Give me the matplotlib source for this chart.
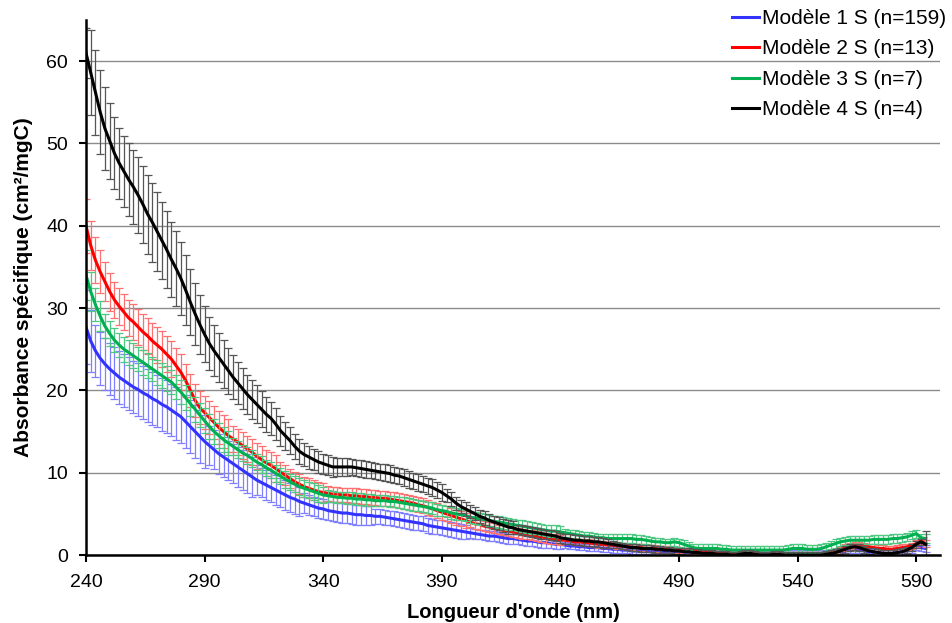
import numpy as np
import matplotlib.pyplot as plt

plt.rcParams['font.family'] = ['Liberation Sans', 'DejaVu Sans']

# wavelengths, nm (one point every 2 nm)
wavelengths = np.arange(240, 595, 2)

labels = ["Modèle 1 S (n=159)", "Modèle 2 S (n=13)", "Modèle 3 S (n=7)", "Modèle 4 S (n=4)"]

# mean specific absorbance, cm2/mgC
m1 = [27.7, 26.0, 24.8, 23.9, 23.2, 22.6, 22.1, 21.6, 21.2, 20.8,
      20.4, 20.1, 19.7, 19.4, 19.0, 18.7, 18.3, 18.0, 17.6, 17.2,
      16.8, 16.2, 15.6, 15.0, 14.4, 13.8, 13.3, 12.8, 12.3, 11.9,
      11.5, 11.1, 10.7, 10.3, 9.9, 9.5, 9.1, 8.8, 8.5, 8.2,
      7.9, 7.6, 7.3, 7.0, 6.8, 6.5, 6.3, 6.1, 5.9, 5.7,
      5.6, 5.4, 5.3, 5.2, 5.1, 5.1, 5.0, 4.9, 4.9, 4.8,
      4.8, 4.7, 4.7, 4.6, 4.5, 4.4, 4.3, 4.2, 4.1, 4.0,
      3.9, 3.8, 3.6, 3.5, 3.4, 3.3, 3.2, 3.1, 3.0, 2.9,
      2.8, 2.7, 2.6, 2.5, 2.4, 2.3, 2.3, 2.2, 2.1, 2.0,
      2.0, 1.9, 1.8, 1.7, 1.7, 1.6, 1.5, 1.5, 1.4, 1.3,
      1.3, 1.2, 1.1, 1.1, 1.0, 1.0, 0.9, 0.9, 0.9, 0.8,
      0.8, 0.7, 0.7, 0.6, 0.6, 0.5, 0.5, 0.5, 0.5, 0.4,
      0.4, 0.4, 0.4, 0.3, 0.3, 0.3, 0.3, 0.3, 0.3, 0.3,
      0.3, 0.3, 0.3, 0.3, 0.2, 0.2, 0.2, 0.2, 0.2, 0.2,
      0.2, 0.2, 0.2, 0.2, 0.2, 0.2, 0.2, 0.2, 0.2, 0.2,
      0.2, 0.2, 0.2, 0.2, 0.2, 0.2, 0.2, 0.2, 0.2, 0.3,
      0.5, 0.6, 0.7, 0.6, 0.5, 0.4, 0.3, 0.3, 0.2, 0.2,
      0.2, 0.3, 0.4, 0.5, 0.7, 1.0, 0.9, 0.8]
m2 = [40.0, 37.6, 35.8, 34.4, 33.2, 32.0, 31.0, 30.2, 29.5, 28.8,
      28.3, 27.7, 27.1, 26.6, 26.0, 25.5, 25.0, 24.4, 23.8, 23.0,
      22.2, 21.2, 20.0, 18.8, 17.9, 17.3, 16.7, 16.1, 15.5, 15.0,
      14.5, 14.1, 13.7, 13.3, 12.9, 12.5, 12.0, 11.6, 11.2, 10.9,
      10.5, 10.1, 9.7, 9.3, 8.9, 8.6, 8.3, 8.1, 7.9, 7.7,
      7.6, 7.5, 7.4, 7.4, 7.3, 7.3, 7.2, 7.2, 7.1, 7.1,
      7.0, 7.0, 6.9, 6.9, 6.8, 6.7, 6.6, 6.5, 6.4, 6.3,
      6.1, 6.0, 5.8, 5.6, 5.4, 5.2, 5.0, 4.8, 4.6, 4.4,
      4.2, 4.0, 3.8, 3.7, 3.5, 3.4, 3.3, 3.1, 3.0, 2.9,
      2.8, 2.7, 2.6, 2.5, 2.4, 2.3, 2.2, 2.1, 2.0, 1.9,
      1.8, 1.8, 1.7, 1.6, 1.6, 1.5, 1.5, 1.4, 1.3, 1.3,
      1.2, 1.2, 1.1, 1.1, 1.0, 1.0, 0.9, 0.9, 0.8, 0.8,
      0.8, 0.7, 0.7, 0.7, 0.6, 0.6, 0.5, 0.5, 0.5, 0.5,
      0.4, 0.4, 0.4, 0.3, 0.3, 0.2, 0.2, 0.2, 0.1, 0.1,
      0.1, 0.0, 0.0, 0.0, 0.0, 0.0, 0.0, 0.0, 0.0, 0.0,
      0.0, 0.0, 0.0, 0.0, 0.0, 0.0, 0.0, 0.1, 0.3, 0.6,
      0.9, 1.1, 1.2, 1.2, 1.1, 1.0, 0.9, 0.8, 0.8, 0.7,
      0.7, 0.8, 0.9, 1.0, 1.1, 1.4, 1.7, 1.4]
m3 = [34.0, 32.0, 30.4, 29.0, 27.8, 26.9, 26.1, 25.5, 25.0, 24.6,
      24.2, 23.8, 23.4, 23.0, 22.6, 22.2, 21.8, 21.4, 21.0, 20.4,
      19.8, 19.1, 18.4, 17.7, 17.0, 16.3, 15.6, 15.0, 14.5, 14.0,
      13.6, 13.2, 12.8, 12.4, 12.1, 11.7, 11.3, 11.0, 10.6, 10.3,
      9.9, 9.6, 9.2, 8.9, 8.6, 8.3, 8.1, 7.9, 7.7, 7.5,
      7.3, 7.2, 7.1, 7.0, 7.0, 6.9, 6.9, 6.8, 6.8, 6.7,
      6.7, 6.6, 6.6, 6.6, 6.5, 6.5, 6.4, 6.3, 6.2, 6.1,
      6.0, 5.9, 5.8, 5.7, 5.5, 5.4, 5.3, 5.1, 5.0, 4.9,
      4.8, 4.6, 4.5, 4.4, 4.3, 4.2, 4.1, 4.0, 3.9, 3.8,
      3.7, 3.6, 3.5, 3.4, 3.3, 3.2, 3.1, 3.0, 2.9, 2.9,
      2.8, 2.7, 2.6, 2.5, 2.4, 2.3, 2.3, 2.2, 2.1, 2.1,
      2.0, 2.0, 2.0, 2.0, 2.0, 2.0, 1.9, 1.9, 1.8, 1.7,
      1.6, 1.6, 1.5, 1.5, 1.6, 1.5, 1.3, 1.1, 0.9, 0.8,
      0.8, 0.8, 0.8, 0.8, 0.7, 0.7, 0.6, 0.6, 0.6, 0.6,
      0.6, 0.6, 0.6, 0.6, 0.6, 0.6, 0.6, 0.6, 0.7, 0.8,
      0.8, 0.8, 0.7, 0.7, 0.7, 0.8, 1.0, 1.2, 1.4, 1.6,
      1.7, 1.8, 1.8, 1.8, 1.8, 1.8, 1.9, 1.9, 1.9, 1.9,
      2.0, 2.0, 2.1, 2.2, 2.4, 2.6, 2.1, 2.0]
m4 = [61.0, 58.6, 56.2, 53.8, 51.8, 50.3, 48.8, 47.6, 46.6, 45.6,
      44.7, 43.7, 42.6, 41.4, 40.4, 39.3, 38.2, 37.1, 35.9, 34.8,
      33.6, 32.2, 30.7, 29.3, 28.0, 26.8, 25.7, 24.8, 24.0, 23.2,
      22.4, 21.6, 20.9, 20.2, 19.5, 18.9, 18.3, 17.7, 17.1, 16.6,
      15.9, 15.1, 14.5, 13.9, 13.2, 12.6, 12.2, 11.9, 11.6, 11.3,
      11.1, 10.9, 10.7, 10.7, 10.7, 10.7, 10.7, 10.6, 10.5, 10.4,
      10.3, 10.2, 10.1, 10.0, 9.9, 9.7, 9.6, 9.4, 9.2, 9.0,
      8.8, 8.6, 8.4, 8.2, 7.9, 7.6, 7.2, 6.8, 6.3, 5.9,
      5.6, 5.3, 5.0, 4.7, 4.5, 4.2, 4.0, 3.8, 3.6, 3.4,
      3.3, 3.1, 3.0, 2.9, 2.8, 2.7, 2.6, 2.5, 2.4, 2.3,
      2.1, 2.0, 1.9, 1.8, 1.8, 1.7, 1.7, 1.6, 1.6, 1.5,
      1.4, 1.3, 1.2, 1.1, 1.0, 0.9, 0.9, 0.8, 0.8, 0.8,
      0.7, 0.7, 0.6, 0.6, 0.5, 0.5, 0.4, 0.4, 0.3, 0.3,
      0.2, 0.2, 0.2, 0.1, 0.1, 0.1, 0.0, 0.0, 0.1, 0.2,
      0.2, 0.1, 0.0, 0.0, 0.0, 0.1, 0.1, 0.0, 0.0, 0.0,
      0.0, 0.0, 0.0, 0.0, 0.0, 0.0, 0.1, 0.2, 0.3, 0.5,
      0.7, 0.9, 1.0, 0.9, 0.7, 0.5, 0.4, 0.3, 0.2, 0.2,
      0.2, 0.3, 0.4, 0.6, 0.9, 1.3, 1.6, 1.3]

# standard deviations
e1 = [4.5, 3.8] + [3.2] * 24 + [2.4] * 10 + [1.8] * 10 + [1.2] * 15 + [0.9] * 20 + [0.6] * 20 + [0.4] * 77
e2 = [3.3, 3.0, 2.8, 2.6, 2.4, 2.3] + [2.2] * 15 + [2.0] * 10 + [1.6] * 10 + [1.2] * 10 + [0.9] * 30 + [0.6] * 20 + [0.4] * 77
e3 = [3.0, 2.4, 2.0, 1.8] + [1.5] * 27 + [1.0] * 20 + [0.7] * 50 + [0.5] * 77
e4 = [3.0, 5.2, 5.2, 5.1, 5.0, 4.6, 4.4, 4.3, 4.3, 4.4,
      4.5, 4.6, 4.7, 4.8, 4.8, 4.8, 4.7, 4.7, 4.6, 4.5,
      4.4, 4.2, 4.0, 3.8, 3.6, 3.4, 3.2, 3.1, 3.0, 2.9,
      2.8, 2.7, 2.6, 2.5, 2.4, 2.4, 2.3, 2.2, 2.1, 2.0,
      1.9, 1.8, 1.7, 1.6, 1.5, 1.5, 1.4, 1.4, 1.3, 1.3,
      1.2, 1.2, 1.2, 1.1, 1.1, 1.1] + [1.0] * 20 + [0.8] * 15 + [0.6] * 20 + [0.4] * 66 + [1.6]

means = [m1, m2, m3, m4]
errors = [e1, e2, e3, e4]
line_colors = ['#3333ff', '#ff0000', '#00b050', '#000000']
bar_colors = ['#7f7fff', '#ff7070', '#4fc884', '#555555']

fig = plt.figure(figsize=(9.52, 6.23), dpi=100)
ax = fig.add_axes([0.0903, 0.1091, 0.8971, 0.859])

for m, e, lc, bc, lab in zip(means, errors, line_colors, bar_colors, labels):
    ax.errorbar(wavelengths, m, yerr=e, fmt='none', ecolor=bc,
                elinewidth=0.9, capsize=2.8, capthick=0.9)
    ax.plot(wavelengths, m, color=lc, lw=2.2, label=lab)

ax.set_xlim(240, 600)
ax.set_ylim(0, 65)
ax.set_xticks(np.arange(240, 591, 50))
ax.set_yticks(np.arange(0, 61, 10))
ax.yaxis.grid(True, color='#8c8c8c', lw=1)
ax.set_axisbelow(True)

for s in ['top', 'right']:
    ax.spines[s].set_visible(False)
for s in ['left', 'bottom']:
    ax.spines[s].set_linewidth(1.8)
ax.tick_params(direction='out', length=5, width=1.5, labelsize=14)
ax.tick_params(axis='x', pad=9)
ax.tick_params(axis='y', pad=8)

ax.set_xlabel("Longueur d'onde (nm)", fontsize=14.5, fontweight='bold')
ax.set_ylabel("Absorbance spécifique (cm²/mgC)", fontsize=15, fontweight='bold')
ax.xaxis.set_label_coords(0.5, -0.089)
ax.yaxis.set_label_coords(-0.062, 0.5)

leg = ax.legend(loc='upper left', bbox_to_anchor=(0.760, 0.999), bbox_transform=fig.transFigure,
                frameon=False, fontsize=15, handlelength=1.3, handletextpad=0.15,
                labelspacing=0.55, borderaxespad=0)

fig.savefig('out.png', dpi=100)
